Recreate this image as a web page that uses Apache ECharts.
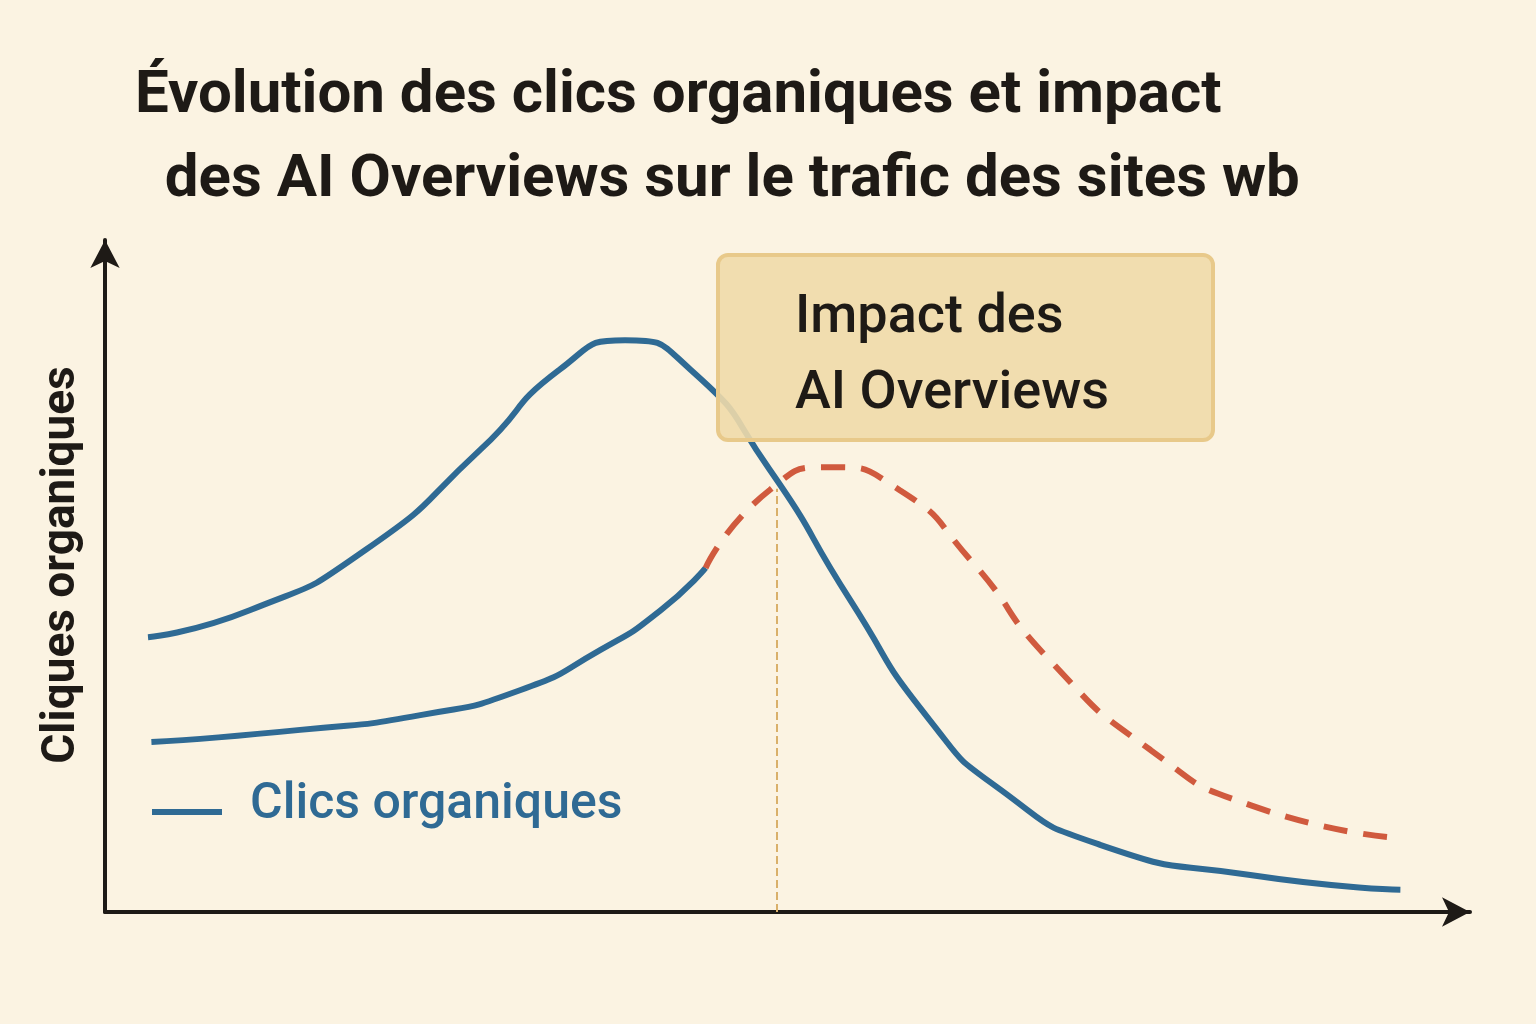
<!DOCTYPE html>
<html><head><meta charset="utf-8">
<script src="https://cdn.jsdelivr.net/npm/echarts@6/dist/echarts.min.js"></script>
<style>html,body{margin:0;background:#fbf3e2}#c{width:1536px;height:1024px}</style>
</head><body><div id="c"></div>
<script>
const clicsOrganiques = [[3.15,40.9],[10.6,44.9],[19.1,53.9],[27.5,68.8],[33.3,80.7],[38.1,85.1],[42.9,80.7],[48.7,65.8],[54.6,46.4],[60.4,28.6],[65.6,18.2],[72.9,10.0],[83.9,5.5],[94.9,3.3]];
const clicsAvant = [[3.4,25.3],[14.3,27.1],[23.1,29.3],[30.4,33.0],[36.3,39.0],[40.7,44.9],[44.0,51.2]];
const clicsAI = [[44.0,51.2],[48.7,62.8],[53.1,66.2],[58.2,62.8],[63.4,52.4],[69.2,37.5],[76.6,24.1],[83.9,15.9],[94.9,11.0]];
const impactX = 49.2;
const blue = '#2f6a94', red = '#d05a3e', ink = '#1e1a16';
const chart = echarts.init(document.getElementById('c'));
chart.setOption({
  backgroundColor: '#fbf3e2',
  title: {
    text: 'Évolution des clics organiques et impact\n  des AI Overviews sur le trafic des sites wb',
    left: 130, top: 50,
    textStyle: {fontFamily: 'Roboto', fontWeight: 'bold', fontSize: 60, color: ink, lineHeight: 84}
  },
  grid: {left: 105, right: 66, top: 240, bottom: 112, containLabel: false, outerBoundsMode: 'none'},
  xAxis: {type: 'value', min: 0, max: 100, splitLine: {show: false}, axisTick: {show: false}, axisLabel: {show: false},
    axisLine: {lineStyle: {color: ink, width: 4}, symbol: ['none', 'arrow'], symbolSize: [22, 28]}},
  yAxis: {type: 'value', min: 0, max: 100, splitLine: {show: false}, axisTick: {show: false}, axisLabel: {show: false},
    axisLine: {show: true, lineStyle: {color: ink, width: 4}, symbol: ['none', 'arrow'], symbolSize: [22, 28]}},
  series: [
    {type: 'line', data: clicsOrganiques, smooth: 0.6, showSymbol: false, lineStyle: {color: blue, width: 6}},
    {type: 'line', data: clicsAvant, smooth: 0.6, showSymbol: false, lineStyle: {color: blue, width: 6},
      markLine: {silent: true, symbol: 'none', label: {show: false}, lineStyle: {color: '#d9b06a', type: 'dashed', width: 2},
        data: [[{coord: [impactX, 0]}, {coord: [impactX, 63]}]]}},
    {type: 'line', data: clicsAI, smooth: 0.6, showSymbol: false, lineStyle: {color: red, width: 6, type: [24, 16]}}
  ],
  graphic: [
    {type: 'text', x: 62, y: 565, rotation: Math.PI / 2, style: {text: 'Cliques organiques', font: 'bold 46px Roboto', fill: ink, align: 'center', verticalAlign: 'middle'}, z: 11},
    {type: 'rect', shape: {x: 718, y: 255, width: 495, height: 185, r: 10}, style: {fill: 'rgba(240,218,170,0.9)', stroke: '#e8c98a', lineWidth: 4}, z: 10},
    {type: 'text', left: 795, top: 280, style: {text: 'Impact des\nAI Overviews', font: '500 54px Roboto', fill: ink, lineHeight: 76}, z: 11},
    {type: 'rect', shape: {x: 152, y: 809, width: 70, height: 6}, style: {fill: blue}, z: 11},
    {type: 'text', left: 250, top: 780, style: {text: 'Clics organiques', font: '500 50px Roboto', fill: blue}, z: 11}
  ]
});
</script></body></html>
